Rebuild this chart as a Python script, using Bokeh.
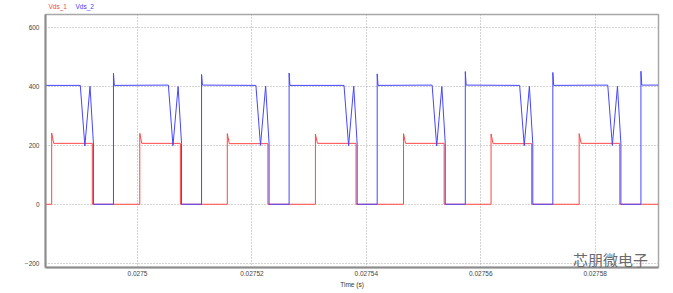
from bokeh.plotting import figure
from bokeh.models import Range1d, FixedTicker, CustomJSTickFormatter, Label
from bokeh.embed import file_html
from bokeh.resources import INLINE

# ---------------- data ----------------
x_ticks = [0.0275, 0.02752, 0.02754, 0.02756, 0.02758]
y_ticks = [-200, 0, 200, 400, 600]
t_start = 0.02748392
t_end = 0.02759107

# Vds_1 (red)
red_rise_t = [0.0274850, 0.0275004, 0.0275157, 0.0275311, 0.0275465, 0.0275618, 0.0275772]
red_fall_t = [0.0274921, 0.0275075, 0.0275228, 0.0275382, 0.0275536, 0.0275689, 0.0275843]
red_spike_v = [242, 241, 240, 238, 240, 239, 240]
red_settle_t = [0.02748535, 0.02750075, 0.02751605, 0.02753145, 0.02754685, 0.02756215, 0.02757755]
red_high_v = [207, 207, 206, 207, 207, 206, 207]
red_low_v = 0

# Vds_2 (blue)
blue_dip_start_t = [0.0274900, 0.0275054, 0.0275207, 0.0275361, 0.0275515, 0.0275668, 0.0275822]
blue_dip_min_t = [0.0274908, 0.0275062, 0.0275215, 0.0275369, 0.0275523, 0.0275676, 0.0275830]
blue_dip_peak_t = [0.0274917, 0.0275071, 0.0275224, 0.0275378, 0.0275532, 0.0275685, 0.0275839]
blue_fall_t = [0.0274923, 0.0275077, 0.0275230, 0.0275384, 0.0275538, 0.0275691, 0.0275845]
blue_rise_t = [0.0274958, 0.0275112, 0.0275265, 0.0275419, 0.0275573, 0.0275726, 0.0275880]
blue_settle_t = [0.02749595, 0.02751135, 0.02752665, 0.02754205, 0.02755745, 0.02757275, 0.02758815]
blue_dip_min_v = [198, 199, 200, 199, 198, 199, 200]
blue_dip_peak_v = [401, 400, 402, 401, 400, 401, 401]
blue_fall_v = [205, 206, 205, 204, 206, 205, 205]
blue_spike_v = [445, 441, 446, 443, 451, 448, 452]
blue_high_v = [404, 405, 404, 404, 405, 404, 405]
blue_low_v = 0

series_names = ["Vds_1", "Vds_2"]
watermark = "芯朋微电子"

# ---------------- build polylines ----------------
red_t, red_v = [t_start], [red_low_v]
for i in range(len(red_rise_t)):
    red_t += [red_rise_t[i], red_rise_t[i], red_settle_t[i], red_fall_t[i], red_fall_t[i]]
    red_v += [red_low_v, red_spike_v[i], red_high_v[i], red_high_v[i], red_low_v]
red_t.append(t_end)
red_v.append(red_low_v)

blue_t, blue_v = [t_start], [blue_high_v[0]]
for i in range(len(blue_rise_t)):
    blue_t += [blue_dip_start_t[i], blue_dip_min_t[i], blue_dip_peak_t[i], blue_fall_t[i],
               blue_fall_t[i], blue_rise_t[i], blue_rise_t[i], blue_settle_t[i]]
    blue_v += [blue_high_v[i], blue_dip_min_v[i], blue_dip_peak_v[i], blue_fall_v[i],
               blue_low_v, blue_low_v, blue_spike_v[i], blue_high_v[i]]
blue_t.append(t_end)
blue_v.append(blue_high_v[-1])

# ---------------- figure ----------------
p = figure(width=673, height=293, output_backend="svg", toolbar_location=None,
           x_range=Range1d(t_start, t_end), y_range=Range1d(-215, 645),
           min_border_left=45, min_border_right=15, min_border_top=13, min_border_bottom=26)
p.background_fill_color = "white"
p.border_fill_color = "white"
p.outline_line_color = "#a8a8a8"
p.outline_line_width = 1.5

FONT = "Liberation Sans"
for ax in (p.xaxis[0], p.yaxis[0]):
    ax.axis_line_color = "#8c8c8c"
    ax.axis_line_width = 2
    ax.major_tick_line_color = None
    ax.minor_tick_line_color = None
    ax.major_tick_out = 0
    ax.major_label_text_font = FONT
    ax.major_label_text_font_size = "6.5px"
    ax.major_label_text_color = "#444444"

p.xaxis.ticker = FixedTicker(ticks=x_ticks)
p.yaxis.ticker = FixedTicker(ticks=y_ticks)
p.xaxis.formatter = CustomJSTickFormatter(code="return parseFloat(tick.toFixed(6)).toString();")
p.xaxis.major_label_standoff = 3
p.yaxis.major_label_standoff = 6
p.xaxis.axis_label = "Time (s)"
p.xaxis.axis_label_text_font = FONT
p.xaxis.axis_label_text_font_size = "6.5px"
p.xaxis.axis_label_text_font_style = "normal"
p.xaxis.axis_label_text_color = "#333333"
p.xaxis.axis_label_standoff = 2

for g in (p.xgrid[0], p.ygrid[0]):
    g.grid_line_color = "#a8a8a8"
    g.grid_line_dash = "1 2"
    g.grid_line_width = 1

p.line(red_t, red_v, line_color="#ff4646", line_width=1)
p.line(blue_t, blue_v, line_color="#4646ff", line_width=1)

# legend texts above the frame (side panel rows, so the frame does not clip them)
p.add_layout(Label(x=3, y=8, x_units="screen", y_units="screen", text=series_names[0],
                   text_color="#ff4040", text_font=FONT, text_font_size="6.5px",
                   text_baseline="middle"), "above")
p.add_layout(Label(x=30, y=1, x_units="screen", y_units="screen", text=series_names[1],
                   text_color="#4040ff", text_font=FONT, text_font_size="6.5px",
                   text_baseline="middle"), "above")

# watermark (inside the frame, bottom right)
p.add_layout(Label(x=565, y=8, x_units="screen", y_units="screen", text=watermark,
                   text_color="#6a6a6a", text_font="Noto Sans CJK SC", text_font_size="15px",
                   text_align="center", text_baseline="middle"))

open("out.html", "w").write(file_html(p, INLINE))
